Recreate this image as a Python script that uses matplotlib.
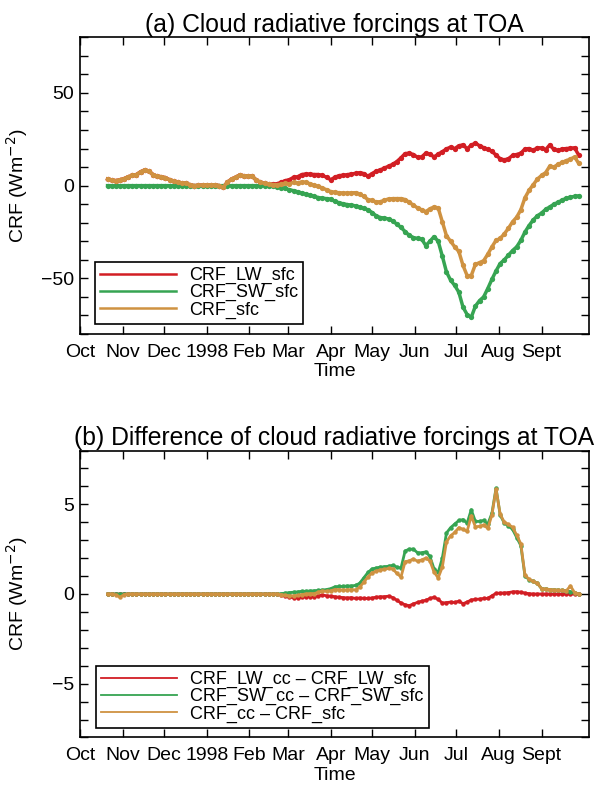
import numpy as np
from matplotlib import pyplot as plt

plt.rcParams['font.family'] = ['Liberation Sans', 'DejaVu Sans']

# days since 1 Oct 1997
days = np.arange(20, 363, 3)
month_days = [0, 31, 61, 92, 123, 151, 182, 212, 243, 273, 304, 335]
month_labels = ['Oct', 'Nov', 'Dec', '1998', 'Feb', 'Mar', 'Apr', 'May', 'Jun', 'Jul', 'Aug', 'Sept']

# (a) surface CRF, W m-2
lw_sfc = [3.6, 3.0, 2.7, 3.2, 3.8, 4.8, 5.5, 6.0, 7.5, 8.5, 7.8, 6.0, 5.1, 4.8, 4.3, 3.2,
          2.3, 1.8, 1.4, 1.2, 0.5, 0.0, 0.2, 0.3, 0.5, 0.4, 0.5, 0.0, -0.8, 1.8, 3.6, 4.5,
          5.8, 5.3, 5.2, 5.0, 3.0, 1.8, 1.2, 0.9, 0.8, 1.0, 1.8, 2.7, 3.2, 4.5, 4.8, 6.0,
          6.3, 6.2, 6.0, 6.0, 5.5, 4.5, 3.2, 4.5, 5.4, 5.6, 5.9, 6.3, 6.6, 7.0, 6.5, 5.1,
          6.5, 7.8, 8.5, 9.5, 10.5, 11.5, 13.0, 15.0, 17.3, 17.5, 16.8, 15.3, 15.5, 17.5, 17.0, 15.5,
          17.0, 18.3, 19.8, 20.8, 20.0, 21.5, 22.0, 19.9, 21.8, 23.0, 21.5, 20.5, 19.5, 18.5, 16.5, 14.5,
          13.9, 14.5, 16.3, 16.8, 17.5, 19.8, 20.0, 19.0, 20.5, 20.3, 19.4, 22.0, 19.5, 19.0, 19.8, 20.0,
          20.2, 20.4, 16.5]
sw_sfc = [0.0] * 40 + [
          -0.3, -0.5, -1.0, -1.5, -2.2, -2.7, -3.3, -4.0, -4.5, -5.2, -5.8, -6.4, -6.8, -7.0, -7.3, -8.5,
          -9.2, -9.8, -10.2, -10.5, -10.9, -11.5, -12.3, -13.0, -14.5, -16.3, -17.2, -17.5, -18.0, -19.0, -20.8, -22.5,
          -24.8, -26.8, -28.0, -28.5, -28.8, -32.3, -30.0, -27.5, -30.0, -38.0, -46.5, -51.0, -53.8, -57.5, -65.5, -69.5,
          -71.0, -65.0, -62.0, -60.0, -55.5, -50.5, -46.0, -42.0, -40.0, -37.5, -35.0, -33.0, -29.5, -25.0, -21.5, -18.5,
          -16.3, -14.8, -12.8, -11.5, -10.0, -9.0, -7.8, -6.8, -6.2, -5.8, -5.5]
net_sfc = [3.6, 3.0, 2.7, 3.2, 3.8, 4.8, 5.5, 6.0, 7.5, 8.5, 7.8, 6.0, 5.1, 4.8, 4.3, 3.2,
           2.3, 1.8, 1.4, 1.2, 0.5, 0.0, 0.2, 0.3, 0.5, 0.4, 0.5, 0.0, -0.8, 1.8, 3.6, 4.5,
           5.8, 5.3, 5.2, 5.0, 3.0, 1.8, 1.2, 0.9, 0.6, 0.5, 0.8, 1.2, 1.0, 1.8, 1.5, 2.0,
           1.8, 1.0, 0.2, -0.4, -1.3, -2.2, -3.2, -3.6, -3.8, -4.0, -4.0, -3.9, -3.8, -4.5, -5.8, -7.5,
           -8.0, -8.8, -8.7, -7.8, -7.2, -7.0, -7.0, -7.0, -7.5, -9.0, -10.5, -12.0, -13.0, -14.0, -12.5, -11.5,
           -12.0, -19.5, -27.0, -30.0, -33.0, -35.5, -43.0, -48.5, -48.5, -42.5, -41.5, -40.5, -37.0, -33.0, -29.5, -28.5,
           -26.0, -23.0, -19.5, -17.0, -13.0, -6.5, -2.5, 0.5, 3.5, 5.5, 7.0, 10.5, 10.0, 11.5, 12.5, 13.5,
           14.3, 15.5, 12.0]

# (b) differences cc - sfc, W m-2
lw_diff = [0.0] * 42 + [
           -0.05, -0.12, -0.18, -0.2, -0.2, -0.18, -0.15, -0.15, -0.16, -0.1, -0.05, -0.1, -0.12, -0.15,
           -0.18, -0.2, -0.22, -0.2, -0.25, -0.22, -0.24, -0.25, -0.22, -0.18, -0.15, -0.15, -0.12, -0.2, -0.35, -0.5,
           -0.6, -0.65, -0.55, -0.47, -0.4, -0.35, -0.25, -0.18, -0.3, -0.5, -0.48, -0.45, -0.47, -0.4, -0.54, -0.45,
           -0.33, -0.3, -0.28, -0.25, -0.24, -0.1, 0.04, 0.05, 0.06, 0.08, 0.12, 0.13, 0.1, 0.05, 0.02, 0.0,
           0.0, 0.0, 0.0, 0.0, 0.0, 0.0, 0.0, 0.0, 0.0, 0.0, 0.0]
sw_diff = [0.0] * 42 + [
           0.02, 0.05, 0.08, 0.1, 0.12, 0.15, 0.15, 0.17, 0.18, 0.2, 0.22, 0.25, 0.3, 0.4,
           0.42, 0.42, 0.45, 0.45, 0.48, 0.6, 0.9, 1.2, 1.4, 1.45, 1.5, 1.52, 1.55, 1.6, 1.5, 1.45,
           2.4, 2.5, 2.5, 2.3, 2.3, 2.35, 2.1, 1.4, 1.2, 2.0, 3.4, 3.7, 3.9, 4.1, 4.15, 3.95,
           4.7, 4.05, 4.05, 4.1, 3.9, 4.5, 5.9, 4.4, 3.95, 3.8, 3.6, 3.15, 2.7, 1.0, 0.8, 0.7,
           0.6, 0.3, 0.28, 0.25, 0.23, 0.22, 0.2, 0.18, 0.13, 0.08, 0.0]
net_diff = [0.0, 0.0, -0.05, -0.18, -0.03] + [0.0] * 37 + [
            -0.03, -0.07, -0.1, -0.1, -0.08, -0.03, 0.0, 0.02, 0.02, 0.1, 0.17, 0.15, 0.18, 0.25,
            0.24, 0.22, 0.23, 0.25, 0.23, 0.38, 0.66, 0.95, 1.18, 1.27, 1.35, 1.37, 1.43, 1.4, 1.15, 0.95,
            1.8, 1.85, 1.95, 1.83, 1.9, 2.0, 1.85, 1.22, 0.9, 1.5, 2.9, 3.25, 3.43, 3.7, 3.6, 3.5,
            4.35, 3.75, 3.77, 3.85, 3.66, 4.4, 5.85, 4.45, 4.0, 3.88, 3.72, 3.28, 2.8, 1.05, 0.82, 0.7,
            0.6, 0.3, 0.28, 0.25, 0.23, 0.22, 0.2, 0.18, 0.45, 0.08, 0.0]

red = '#d21e24'
green = '#36a452'
tan = '#cf9241'

fig = plt.figure(figsize=(5.98, 7.89), dpi=100)
ax1 = fig.add_axes([0.1338, 0.5767, 0.8512, 0.3760])
ax2 = fig.add_axes([0.1338, 0.0653, 0.8512, 0.3637])


def style(ax, title, ylim, major, minor):
    ax.set_xlim(0, 369.5)
    ax.set_ylim(*ylim)
    ax.set_xticks(month_days)
    ax.set_xticklabels(month_labels)
    ax.set_yticks(major)
    ax.set_yticks(minor, minor=True)
    ax.tick_params(which='both', direction='in', top=True, right=True, length=6,
                   width=1, labelsize=14)
    ax.tick_params(axis='x', pad=7)
    ax.tick_params(axis='y', pad=4)
    ax.set_xlabel('Time', fontsize=14, labelpad=2)
    ax.set_ylabel('CRF (Wm$^{-2}$)', fontsize=14)
    ax.yaxis.set_label_coords(-0.098, 0.5)
    ax.set_title(title, fontsize=17.8, pad=4)
    for s in ax.spines.values():
        s.set_linewidth(1.2)


ax1.plot(days, lw_sfc, c=red, lw=2.5, marker='o', ms=3.8, mew=0, label='CRF_LW_sfc')
ax1.plot(days, sw_sfc, c=green, lw=2.5, marker='o', ms=3.8, mew=0, label='CRF_SW_sfc')
ax1.plot(days, net_sfc, c=tan, lw=2.5, marker='o', ms=3.8, mew=0, label='CRF_sfc')
style(ax1, '(a) Cloud radiative forcings at TOA', (-80, 80), [-50, 0, 50], np.arange(-80, 81, 10))

ax2.plot(days, lw_diff, c=red, lw=2.0, marker='o', ms=3.2, mew=0, label='CRF_LW_cc – CRF_LW_sfc')
ax2.plot(days, sw_diff, c=green, lw=2.0, marker='o', ms=3.2, mew=0, label='CRF_SW_cc – CRF_SW_sfc')
ax2.plot(days, net_diff, c=tan, lw=2.0, marker='o', ms=3.2, mew=0, label='CRF_cc – CRF_sfc')
style(ax2, '(b) Difference of cloud radiative forcings at TOA', (-8, 8), [-5, 0, 5], np.arange(-8, 9, 1))

for ax, lw, anchor in ((ax1, 1.8, (0.1589, 0.5894)), (ax2, 1.3, (0.1605, 0.0773))):
    leg = ax.legend(loc='lower left', bbox_to_anchor=anchor, bbox_transform=fig.transFigure,
                    fontsize=13, frameon=True, fancybox=False, edgecolor='black', framealpha=1,
                    handlelength=4.2, handletextpad=0.7, borderaxespad=0, labelspacing=0,
                    borderpad=0.3)
    leg.get_frame().set_linewidth(1.2)
    for h in leg.legend_handles:
        h.set_marker('')
        h.set_linewidth(lw)

fig.savefig('out.png', dpi=100)
